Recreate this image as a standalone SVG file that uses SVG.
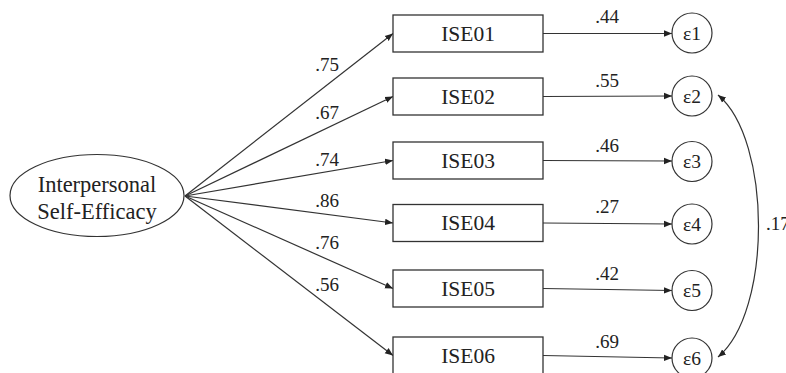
<svg xmlns="http://www.w3.org/2000/svg" width="786" height="373" viewBox="0 0 786 373" font-family="Liberation Serif, serif">
<style>
text{fill:#222}
.box{fill:#fff;stroke:#333;stroke-width:1.3}
.err{fill:#fff;stroke:#333;stroke-width:1.2}
.lat{fill:#fff;stroke:#333;stroke-width:1.2}
.c{fill:none;stroke:#333;stroke-width:1.2;marker-end:url(#ah)}
.dc{fill:none;stroke:#333;stroke-width:1.2;marker-start:url(#ah);marker-end:url(#ah)}
.nt{font-size:21.5px;text-anchor:middle}
.lt{font-size:22.5px;text-anchor:middle}
.et{font-size:19.5px;text-anchor:middle}
.lb{font-size:19px;text-anchor:middle}
</style>
<defs>
<marker id="ah" viewBox="0 0 10 10" refX="10" refY="5" markerWidth="8" markerHeight="8" markerUnits="userSpaceOnUse" orient="auto-start-reverse">
<path d="M0,1 L10,5 L0,9 z" fill="#222"/>
</marker>
</defs>
<rect width="786" height="373" fill="#fff"/>
<g id="connectors" font-family="Liberation Serif, serif">
<path class="c" d="M185,196 L393,33.5"/>
<path class="c" d="M185,196 L393,96.5"/>
<path class="c" d="M185,196 L393,160.5"/>
<path class="c" d="M185,196 L393,223"/>
<path class="c" d="M185,196 L393,288.5"/>
<path class="c" d="M185,196 L393,355.5"/>
<path class="c" d="M543,33.5 L672,33.5"/>
<path class="c" d="M543,96.5 L672,96"/>
<path class="c" d="M543,160.5 L672,161"/>
<path class="c" d="M543,223 L672,224"/>
<path class="c" d="M543,288.5 L672,290.5"/>
<path class="c" d="M543,355.5 L672,358"/>
<path class="dc" d="M718,95 C772,140 772,312 718,357"/>
<text class="lb" x="327" y="71">.75</text>
<text class="lb" x="327" y="119">.67</text>
<text class="lb" x="327" y="166">.74</text>
<text class="lb" x="327" y="207">.86</text>
<text class="lb" x="327" y="249">.76</text>
<text class="lb" x="327" y="291">.56</text>
<text class="lb" x="607" y="23">.44</text>
<text class="lb" x="607" y="87">.55</text>
<text class="lb" x="607" y="151.5">.46</text>
<text class="lb" x="607" y="213">.27</text>
<text class="lb" x="607" y="280">.42</text>
<text class="lb" x="607" y="348">.69</text>
<text font-size="19" x="766" y="230">.17</text>
</g>
<g id="latent">
<ellipse class="lat" cx="97" cy="195.5" rx="87" ry="41"/>
<text class="lt" x="97" y="192">Interpersonal</text>
<text class="lt" x="97" y="219">Self-Efficacy</text>
</g>
<g id="ISE01"><rect class="box" x="393" y="15" width="150" height="37"/><text class="nt" x="468" y="40.5">ISE01</text></g>
<g id="ISE02"><rect class="box" x="393" y="78" width="150" height="37"/><text class="nt" x="468" y="103.5">ISE02</text></g>
<g id="ISE03"><rect class="box" x="393" y="142" width="150" height="37"/><text class="nt" x="468" y="167.5">ISE03</text></g>
<g id="ISE04"><rect class="box" x="393" y="204.5" width="150" height="37"/><text class="nt" x="468" y="230">ISE04</text></g>
<g id="ISE05"><rect class="box" x="393" y="270" width="150" height="37"/><text class="nt" x="468" y="295.5">ISE05</text></g>
<g id="ISE06"><rect class="box" x="393" y="337" width="150" height="37"/><text class="nt" x="468" y="362.5">ISE06</text></g>
<g id="e1"><circle class="err" cx="692" cy="33" r="20"/><text class="et" x="692" y="39.5">ε1</text></g>
<g id="e2"><circle class="err" cx="692" cy="96" r="20"/><text class="et" x="692" y="102.5">ε2</text></g>
<g id="e3"><circle class="err" cx="692" cy="161.5" r="20"/><text class="et" x="692" y="168">ε3</text></g>
<g id="e4"><circle class="err" cx="692" cy="224" r="20"/><text class="et" x="692" y="230.5">ε4</text></g>
<g id="e5"><circle class="err" cx="692" cy="290.5" r="20"/><text class="et" x="692" y="297">ε5</text></g>
<g id="e6"><circle class="err" cx="692" cy="358" r="20"/><text class="et" x="692" y="364.5">ε6</text></g>
</svg>
